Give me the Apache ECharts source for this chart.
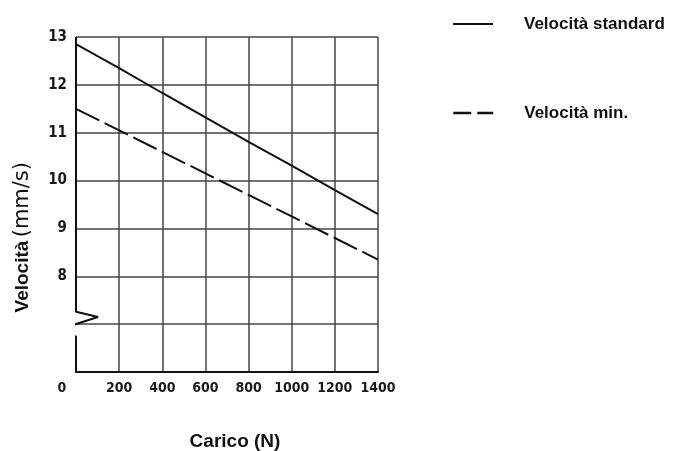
<!DOCTYPE html>
<html>
<head>
<meta charset="utf-8">
<script src="https://cdn.jsdelivr.net/npm/echarts@6/dist/echarts.min.js"></script>
<style>html,body{margin:0;padding:0;background:#fff}#c{width:678px;height:451px}</style>
</head>
<body>
<div id="c"></div>
<script>
const carico = [0, 200, 400, 600, 800, 1000, 1200, 1400];
const velStandard = [12.85, 12.35, 11.83, 11.32, 10.81, 10.31, 9.8, 9.3];
const velMin = [11.5, 11.05, 10.6, 10.15, 9.7, 9.25, 8.8, 8.35];
const yTicksShown = [8, 9, 10, 11, 12, 13];
// y-axis line with break marker (data coordinates)
const axisBreak = [[0, 13], [0, 7.26], [102, 7.15], [-98, 6.86], [0, 6.74], [0, 6]];

const tickFont = "'DejaVu Sans Condensed','Liberation Sans Narrow',sans-serif";
const legendText = { fontFamily: 'Liberation Sans, Arial, sans-serif', fontWeight: 'bold', fontSize: 17, color: '#111', lineHeight: 20, padding: [0, 0, 0, 26] };
const hiddenSymbol = { opacity: 0, color: 'transparent', borderWidth: 0 };
const chart = echarts.init(document.getElementById('c'));
chart.setOption({
  backgroundColor: '#fff',
  animation: false,
  grid: { left: 76, right: 300, top: 37, bottom: 79, containLabel: false, outerBoundsMode: 'none' },
  legend: [
    {
      orient: 'vertical', left: 452, top: 14, right: 'auto', bottom: 'auto', padding: 0,
      itemWidth: 40, itemHeight: 14, selectedMode: false,
      textStyle: legendText, itemStyle: hiddenSymbol,
      data: [{ name: 'Velocità standard', itemStyle: hiddenSymbol, lineStyle: { color: '#111', width: 2 } }]
    },
    {
      orient: 'vertical', left: 452, top: 103, right: 'auto', bottom: 'auto', padding: 0,
      itemWidth: 40, itemHeight: 14, selectedMode: false,
      textStyle: legendText, itemStyle: hiddenSymbol,
      data: [{ name: 'Velocità min.', itemStyle: hiddenSymbol, lineStyle: { color: '#111', width: 2.5, type: [18, 6] } }]
    }
  ],
  xAxis: {
    type: 'value', min: 0, max: 1400, interval: 200,
    name: 'Carico (N)', nameLocation: 'middle', nameGap: 60,
    nameTextStyle: { fontFamily: 'Liberation Sans, Arial, sans-serif', fontWeight: 'bold', fontSize: 19, color: '#111', padding: [0, 0, 0, 16] },
    axisLine: { show: true, lineStyle: { color: '#111', width: 2 } },
    axisTick: { show: false },
    axisLabel: {
      margin: 9, color: '#1a1a1a', fontFamily: tickFont, fontWeight: 'bold', fontSize: 14,
      formatter: v => v === 0 ? '{z|0}' : String(v),
      rich: { z: { padding: [0, 28, 0, 0], fontFamily: tickFont, fontWeight: 'bold', fontSize: 14, color: '#1a1a1a' } }
    },
    splitLine: { show: true, showMinLine: false, lineStyle: { color: '#444', width: 1.5 } }
  },
  yAxis: {
    type: 'value', min: 6, max: 13, interval: 1,
    axisLine: { show: false },
    axisTick: { show: false },
    axisLabel: {
      margin: 9, color: '#1a1a1a', fontFamily: tickFont, fontWeight: 'bold', fontSize: 15,
      formatter: v => yTicksShown.includes(v) ? String(v) : ''
    },
    splitLine: { show: true, showMinLine: false, lineStyle: { color: '#444', width: 1.5 } }
  },
  graphic: [{
    type: 'text', left: 12, top: 162, rotation: Math.PI / 2,
    style: {
      text: '{b|Velocità} {r|(mm/s)}',
      rich: {
        b: { fontFamily: 'Liberation Sans, Arial, sans-serif', fontWeight: 'bold', fontSize: 19, fill: '#111' },
        r: { fontFamily: 'DejaVu Sans, sans-serif', fontSize: 21, fill: '#111' }
      }
    }
  }],
  series: [
    {
      name: 'Velocità standard', type: 'line', symbol: 'none',
      data: carico.map((x, i) => [x, velStandard[i]]),
      lineStyle: { color: '#111', width: 2 }
    },
    {
      name: 'Velocità min.', type: 'line', symbol: 'none',
      data: carico.map((x, i) => [x, velMin[i]]),
      lineStyle: { color: '#111', width: 2, type: [26, 6] }
    },
    {
      name: 'asse', type: 'line', symbol: 'none', clip: false, silent: true, z: 5,
      data: axisBreak,
      lineStyle: { color: '#111', width: 2 }
    }
  ]
});
</script>
</body>
</html>
